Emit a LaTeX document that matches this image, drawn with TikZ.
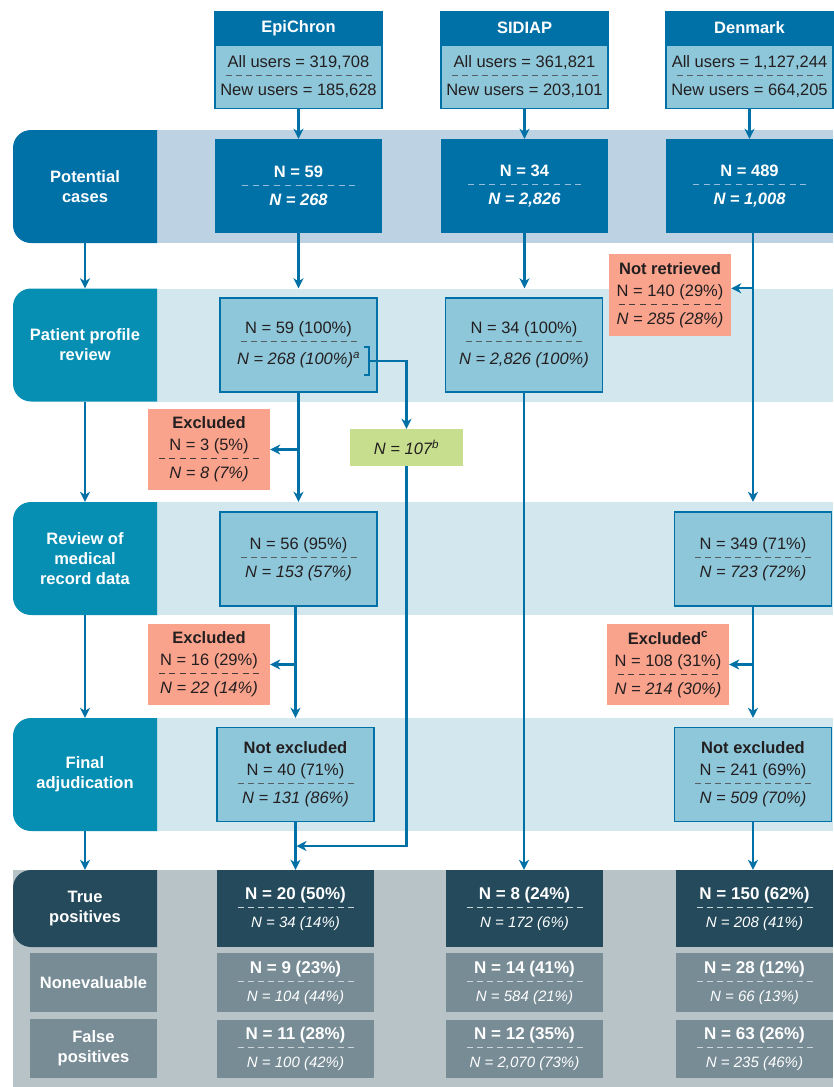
\documentclass[tikz,border=0pt]{standalone}
\usepackage{fontspec}
\setmainfont{Liberation Sans}
\usetikzlibrary{arrows.meta,positioning}

\definecolor{deepblue}{RGB}{0,113,167}
\definecolor{potband}{RGB}{189,211,227}
\definecolor{stagecol}{RGB}{6,143,178}
\definecolor{paleband}{RGB}{210,231,238}
\definecolor{boxfill}{RGB}{142,199,218}
\definecolor{exclfill}{RGB}{249,162,140}
\definecolor{limefill}{RGB}{198,222,141}
\definecolor{slate}{RGB}{36,74,91}
\definecolor{greybox}{RGB}{120,140,150}
\definecolor{greyband}{RGB}{184,195,200}
\definecolor{ink}{RGB}{35,31,32}
\definecolor{dashblue}{RGB}{150,190,220}
\definecolor{dashgrey}{RGB}{85,95,100}
\definecolor{dashdark}{RGB}{70,60,60}
\definecolor{dashlight}{RGB}{205,214,218}
\colorlet{dashc}{gray}

\newcommand{\boxfont}{\fontsize{16.5}{20}\selectfont}
\newcommand{\splitline}[1]{\hbox to #1{\xleaders\hbox to 10pt{\hss\vrule height 0.5pt depth 0.5pt width 6pt\hss}\hfill}}
\newcommand{\splitsep}[2][0pt]{\\[-12pt]{\color{dashc}\splitline{#2}}\\[#1]}
\newcommand{\lowline}[1]{{\fontsize{15}{20}\selectfont\mdseries\itshape #1}}

\begin{document}
\begin{tikzpicture}[x=1pt, y=-1pt,
    every node/.style = {inner sep=0pt, align=center, font=\boxfont},
    arrow/.style = {line width=2.2pt, deepblue, -{Stealth[length=10pt, width=10pt, inset=3pt]}},
    link/.style = {line width=2pt, deepblue},
    dashcol/.style = {execute at begin node={\colorlet{dashc}{#1}}},
    band/.style = {fill=#1, minimum width=676pt, minimum height=113pt},
    stage/.style = {text=white, font=\boxfont\bfseries, minimum width=144pt, minimum height=113pt,
        path picture={
            \coordinate (nw) at (path picture bounding box.north west);
            \coordinate (sw) at (path picture bounding box.south west);
            \fill[#1] (path picture bounding box.north east) -- ([xshift=18pt]nw)
                .. controls ([xshift=8pt]nw) and ([yshift=-8pt]nw) .. ([yshift=-18pt]nw)
                -- ([yshift=18pt]sw) .. controls ([yshift=8pt]sw) and ([xshift=8pt]sw) .. ([xshift=18pt]sw)
                -- (path picture bounding box.south east) -- cycle;}},
    subtag/.style = {fill=greybox, text=white, font=\boxfont\bfseries, minimum width=127pt, minimum height=59pt},
    htitle/.style = {fill=deepblue, draw=deepblue, line width=1.5pt, text=white, font=\boxfont\bfseries,
        minimum width=167pt, minimum height=32pt},
    hbody/.style = {fill=boxfill, draw=deepblue, line width=1.5pt, text=ink, minimum width=167pt,
        minimum height=63pt, dashcol=dashgrey},
    potbox/.style = {fill=deepblue, text=white, font=\boxfont\bfseries, minimum width=167pt,
        minimum height=94pt, dashcol=dashblue},
    stepbox/.style = {fill=boxfill, draw=deepblue, line width=1.5pt, text=ink, minimum width=157pt,
        minimum height=94pt, dashcol=dashgrey},
    exclbox/.style = {fill=exclfill, text=ink, minimum width=122pt, minimum height=81pt, dashcol=dashdark},
    notebox/.style = {fill=limefill, text=ink, minimum width=113pt, minimum height=37pt},
    outbox/.style = {fill=#1, text=white, font=\fontsize{17}{20}\selectfont\bfseries, minimum width=157pt,
        dashcol=dashlight}
  ]
    \useasboundingbox (0,0) rectangle (833,1087);

    % bands
    \node[band=potband]  (bpot)  at (495,186.5) {};
    \node[band=paleband] (bprof) at (495,345) {};
    \node[band=paleband] (brev)  at (495,558.5) {};
    \node[band=paleband] (bfin)  at (495,774.5) {};
    \node[fill=greyband, minimum width=820pt, minimum height=217pt] (bout) at (423,978.5) {};

    % stages
    \node[stage=deepblue] (lpot)  at (85,186.5) {Potential\\cases};
    \node[stage=stagecol] (lprof) at (85,345)   {Patient profile\\review};
    \node[stage=stagecol] (lrev)  at (85,558.5) {Review of\\medical\\record data};
    \node[stage=stagecol] (lfin)  at (85,774.5) {Final\\adjudication};
    \node[stage=slate, minimum height=77pt] (ltp) at (85,908.5) {True\\positives};
    \node[subtag] (lne) at (93.5,982.5)  {Nonevaluable};
    \node[subtag] (lfp) at (93.5,1048.5) {False\\positives};

    % databases
    \node[htitle] (hepi) at (298.5,28) {EpiChron};
    \node[hbody, below=0pt of hepi] (uepi) {All users = 319,708\splitsep{150pt}New users = 185,628};
    \node[htitle] (hsid) at (524.5,28) {SIDIAP};
    \node[hbody, below=0pt of hsid] (usid) {All users = 361,821\splitsep{150pt}New users = 203,101};
    \node[htitle] (hden) at (749.5,28) {Denmark};
    \node[hbody, below=0pt of hden] (uden) {All users = 1,127,244\splitsep{150pt}New users = 664,205};

    \node[potbox] (ppepi) at (298.5,186) {N = 59\splitsep{119pt}\textit{N = 268}};
    \node[potbox] (ppsid) at (524.5,186) {N = 34\splitsep{119pt}\textit{N = 2,826}};
    \node[potbox] (ppden) at (749.5,186) {N = 489\splitsep{119pt}\textit{N = 1,008}};

    \node[stepbox] (prepi) at (298.5,345) {N = 59 (100\%)\splitsep[3pt]{120pt}\textit{N = 268 (100\%)\textsuperscript{a}}};
    \node[stepbox] (prsid) at (524,345) {N = 34 (100\%)\splitsep[3pt]{120pt}\textit{N = 2,826 (100\%)}};
    \node[exclbox, minimum height=82pt] (nr) at (670,295)
        {\textbf{Not retrieved}\\[2pt]N = 140 (29\%)\splitsep{108pt}\textit{N = 285 (28\%)}};

    \node[notebox] (g107) at (406.5,447.5) {\textit{N = 107\textsuperscript{b}}};
    \node[exclbox] (x1) at (209,449.5) {\textbf{Excluded}\\[2pt]N = 3 (5\%)\splitsep{105pt}\textit{N = 8 (7\%)}};

    \node[stepbox] (rvepi) at (298.5,559) {N = 56 (95\%)\splitsep{120pt}\textit{N = 153 (57\%)}};
    \node[stepbox] (rvden) at (753,559) {N = 349 (71\%)\splitsep{120pt}\textit{N = 723 (72\%)}};

    \node[exclbox] (x2) at (209,664.5) {\textbf{Excluded}\\[2pt]N = 16 (29\%)\splitsep{105pt}\textit{N = 22 (14\%)}};
    \node[exclbox] (x3) at (668,664.5) {\textbf{Excluded\textsuperscript{c}}\\[2pt]N = 108 (31\%)\splitsep{105pt}\textit{N = 214 (30\%)}};

    \node[stepbox] (fnepi) at (295.5,774.5) {\textbf{Not excluded}\\[2pt]N = 40 (71\%)\splitsep{120pt}\textit{N = 131 (86\%)}};
    \node[stepbox] (fnden) at (753,774.5) {\textbf{Not excluded}\\[2pt]N = 241 (69\%)\splitsep{120pt}\textit{N = 509 (70\%)}};

    % outcomes
    \node[outbox=slate, minimum height=77pt] (tpepi) at (295.5,908.5) {N = 20 (50\%)\splitsep{120pt}\lowline{N = 34 (14\%)}};
    \node[outbox=slate, minimum height=77pt] (tpsid) at (524.5,908.5) {N = 8 (24\%)\splitsep{120pt}\lowline{N = 172 (6\%)}};
    \node[outbox=slate, minimum height=77pt] (tpden) at (754.5,908.5) {N = 150 (62\%)\splitsep{120pt}\lowline{N = 208 (41\%)}};
    \node[outbox=greybox, minimum height=59pt] (neepi) at (295.5,982.5) {N = 9 (23\%)\splitsep{120pt}\lowline{N = 104 (44\%)}};
    \node[outbox=greybox, minimum height=59pt] (nesid) at (524.5,982.5) {N = 14 (41\%)\splitsep{120pt}\lowline{N = 584 (21\%)}};
    \node[outbox=greybox, minimum height=59pt] (neden) at (754.5,982.5) {N = 28 (12\%)\splitsep{120pt}\lowline{N = 66 (13\%)}};
    \node[outbox=greybox, minimum height=58pt] (fpepi) at (295.5,1049) {N = 11 (28\%)\splitsep{120pt}\lowline{N = 100 (42\%)}};
    \node[outbox=greybox, minimum height=58pt] (fpsid) at (524.5,1049) {N = 12 (35\%)\splitsep{120pt}\lowline{N = 2,070 (73\%)}};
    \node[outbox=greybox, minimum height=58pt] (fpden) at (754.5,1049) {N = 63 (26\%)\splitsep{120pt}\lowline{N = 235 (46\%)}};

    % stage flow
    \draw[arrow] (lpot) -- (lprof);
    \draw[arrow] (lprof) -- (lrev);
    \draw[arrow] (lrev) -- (lfin);
    \draw[arrow] (lfin) -- (ltp);

    \draw[arrow] (uepi) -- (ppepi);
    \draw[arrow] (usid) -- (ppsid);
    \draw[arrow] (uden) -- (ppden);

    \draw[arrow] (ppepi) -- (ppepi |- bprof.north);
    \draw[arrow] (ppsid) -- (ppsid |- bprof.north);
    \draw[arrow] (rvden.north |- ppden.south) -- (rvden.north |- brev.north);
    \draw[arrow] (rvden.north |- bprof.north) -- (nr.east |- bprof.north);

    \draw[arrow] (prepi) -- (prepi |- brev.north);
    \draw[arrow] (prepi.south |- x1.east) -- (x1);
    \draw[arrow] (fnepi.north |- rvepi.south) -- (fnepi.north |- bfin.north);
    \draw[arrow] (fnepi.north |- x2.east) -- (x2);
    \draw[arrow] (fnepi) -- (tpepi);

    \coordinate (brk) at ([xshift=-9pt, yshift=-16pt]prepi.east);
    \draw[link] ([xshift=-5pt, yshift=14pt]brk) -| ([yshift=-14pt]brk) -- ++(-5,0);
    \draw[arrow] (brk) -| (g107.north);
    \draw[arrow, shorten >=1pt] (g107.south) |- (fnepi.south |- 0,846);

    \draw[arrow] (prsid) -- (prsid |- tpsid.north);

    \draw[arrow] (rvden) -- (rvden |- bfin.north);
    \draw[arrow] (rvden.south |- x3.east) -- (x3);
    \draw[arrow] (fnden) -- (fnden |- tpden.north);
\end{tikzpicture}
\end{document}
